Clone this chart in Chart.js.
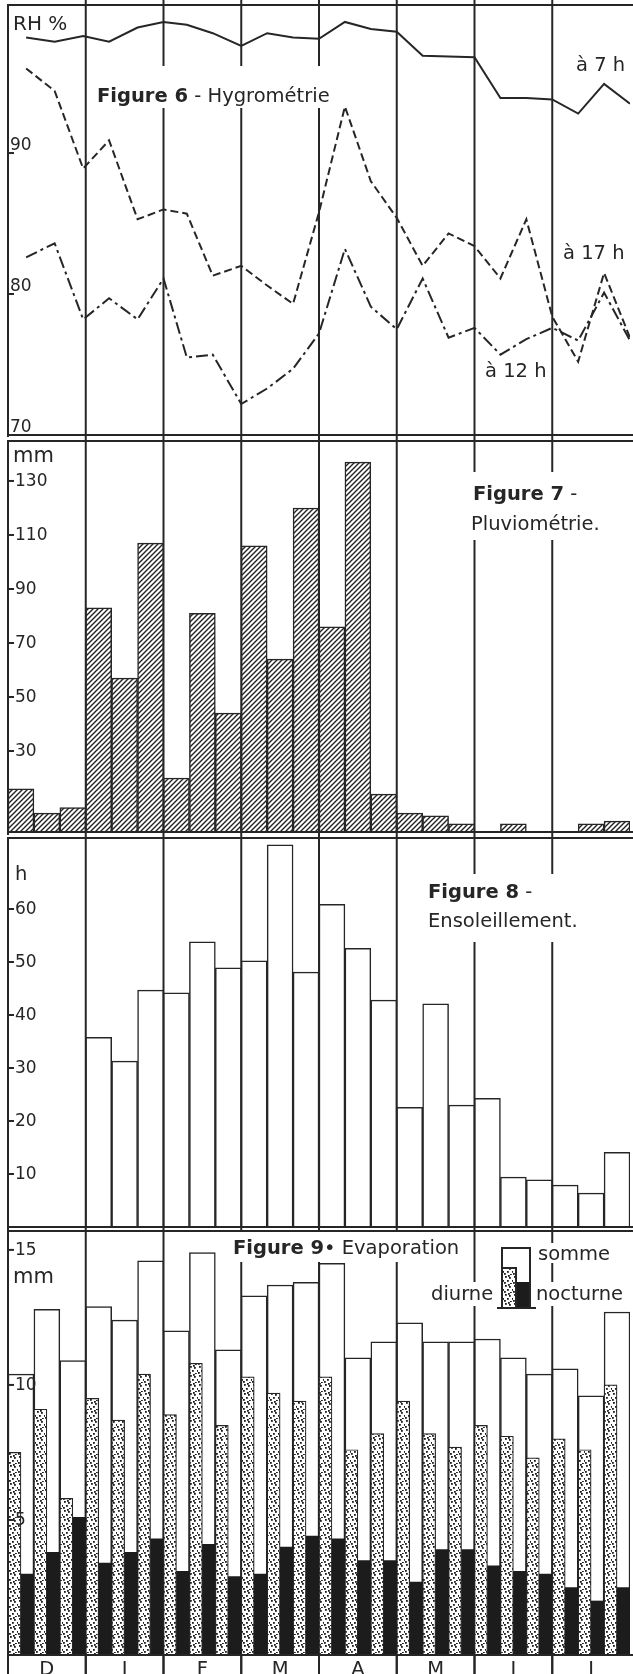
<!DOCTYPE html>
<html>
<head>
<meta charset="utf-8">
<title>Figures 6 - 9</title>
<script src="https://cdn.jsdelivr.net/npm/chart.js@4.4.1/dist/chart.umd.min.js"></script>
<style>
  html, body { margin:0; padding:0; background:#fff; }
  #page { position:relative; width:633px; height:1674px; overflow:hidden; background:#fff; }
  #page canvas { position:absolute; left:0; }
</style>
</head>
<body>
<div id="page">
  <canvas id="fig6" width="633" height="437" style="top:0px"></canvas>
  <canvas id="fig7" width="633" height="398" style="top:437px"></canvas>
  <canvas id="fig8" width="633" height="395" style="top:835px"></canvas>
  <canvas id="fig9" width="633" height="444" style="top:1230px"></canvas>
</div>
<script>
const qs = (sel)=> document.querySelector(sel);
const INK  = '#262626';
const FONT = '"DejaVu Sans", sans-serif';

// ---------- data ----------
const months  = ['D','J','F','M','A','M','J','J'];
const decades = ['D1','D2','D3','J1','J2','J3','F1','F2','F3','M1','M2','M3',
                 'A1','A2','A3','Ma1','Ma2','Ma3','Jn1','Jn2','Jn3','Jl1','Jl2','Jl3'];

// fig 6 - hygrometry (RH %), x = position in decades from 1st December
const rhX  = [0.7,1.8,2.9,3.9,5,6,6.9,7.9,9,10,11,12,13,14,15,16,17,18,19,20,21,22,23,24];
const rh7  = [98.2,97.9,98.3,97.9,98.9,99.3,99.1,98.5,97.6,98.5,98.2,98.1,
              99.3,98.8,98.6,96.9,96.85,96.8,93.9,93.9,93.8,92.8,94.9,93.5];
const rh17 = [96.0,94.4,88.9,90.9,85.3,86.0,85.7,81.3,82.0,80.6,79.3,85.8,
              93.3,88.0,85.4,82.0,84.3,83.4,81.1,85.3,78.4,75.2,81.5,76.9];
const rh12 = [82.6,83.6,78.2,79.7,78.2,81.1,75.5,75.7,72.2,73.3,74.7,77.2,
              83.2,79.1,77.5,81.1,76.9,77.6,75.7,76.8,77.6,76.7,80.1,76.7];
const rhTicks = [90, 80, 70];

// fig 7 - rainfall per decade (mm)
const rain = [16,7,9, 83,57,107, 20,81,44, 106,64,120, 76,137,14, 7,6,3, 0,3,0, 0,3,4];
const rainTicks = [30, 50, 70, 90, 110, 130];

// fig 8 - sunshine per decade (h)
const sun = [0,0,0, 35.8,31.3,44.7, 44.2,53.8,48.9, 50.2,72.1,48.1,
             60.9,52.6,42.8, 22.6,42.1,23.0, 24.3,9.4,8.9, 7.9,6.4,14.1];
const sunTicks = [10, 20, 30, 40, 50, 60];

// fig 9 - evaporation per decade (mm)
const evapSum   = [10.4,12.8,10.9, 12.9,12.4,14.6, 12.0,14.9,11.3, 13.3,13.7,13.8,
                   14.5,11.0,11.6, 12.3,11.6,11.6, 11.7,11.0,10.4, 10.6,9.6,12.7];
const evapDay   = [7.5,9.1,5.8, 9.5,8.7,10.4, 8.9,10.8,8.5, 10.3,9.7,9.4,
                   10.3,7.6,8.2, 9.4,8.2,7.7, 8.5,8.1,7.3, 8.0,7.6,10.0];
const evapNight = [3.0,3.8,5.1, 3.4,3.8,4.3, 3.1,4.1,2.9, 3.0,4.0,4.4,
                   4.3,3.5,3.5, 2.7,3.9,3.9, 3.3,3.1,3.0, 2.5,2.0,2.5];
const evapTicks = [5, 10, 15];

// ---------- fills ----------
function hatch() {
  const c = document.createElement('canvas'); c.width = 5; c.height = 5;
  const g = c.getContext('2d');
  g.fillStyle = '#fff'; g.fillRect(0, 0, 5, 5);
  g.strokeStyle = '#222'; g.lineWidth = 1.4;
  g.beginPath();
  g.moveTo(-1, 6); g.lineTo(6, -1);
  g.moveTo(-1, 1); g.lineTo(1, -1);
  g.moveTo(4, 6); g.lineTo(6, 4);
  g.stroke();
  return g.createPattern(c, 'repeat');
}
function stipple() {
  const c = document.createElement('canvas'); c.width = 9; c.height = 9;
  const g = c.getContext('2d');
  g.fillStyle = '#fff'; g.fillRect(0, 0, 9, 9);
  g.fillStyle = '#1c1c1c';
  [[1,1],[5,2],[8,5],[3,5],[6,8],[0,7],[4,0]].forEach(d => g.fillRect(d[0], d[1], 1.8, 1.8));
  return g.createPattern(c, 'repeat');
}

// ---------- decoration plugin ----------
function monthEdges(chart) {
  const x = chart.scales.x;
  if (x.type === 'linear') return months.map((m, k) => x.getPixelForValue(3 * k)).concat(x.getPixelForValue(24));
  const half = (x.getPixelForValue(1) - x.getPixelForValue(0)) / 2;
  return months.map((m, k) => x.getPixelForValue(3 * k) - half).concat(x.getPixelForValue(23) + half);
}

// parts: [text, bold, size]
function richText(ctx, x, y, parts) {
  parts.forEach(p => {
    ctx.font = (p[1] ? 'bold ' : '') + (p[2] || 19.5) + 'px ' + FONT;
    ctx.fillText(p[0], x, y);
    x += ctx.measureText(p[0]).width;
  });
}

const deco = {
  id: 'deco',
  beforeDatasetsDraw(chart, args, o) {
    const ctx = chart.ctx;
    ctx.save();
    ctx.strokeStyle = INK; ctx.lineWidth = 2;
    monthEdges(chart).slice(1, 8).forEach(x => {
      ctx.beginPath(); ctx.moveTo(x, 0); ctx.lineTo(x, chart.height); ctx.stroke();
    });
    ctx.fillStyle = '#fff';
    (o.boxes || []).forEach(b => ctx.fillRect(b[0], b[1] - o.top, b[2], b[3]));
    ctx.restore();
  },
  afterDatasetsDraw(chart, args, o) {
    const ctx = chart.ctx, a = chart.chartArea, y = chart.scales.y;
    ctx.save();
    ctx.fillStyle = INK; ctx.strokeStyle = INK; ctx.lineWidth = 2;
    ctx.font = '17px ' + FONT;
    o.ticks.forEach(v => {
      const py = Math.min(y.getPixelForValue(v), a.bottom);
      ctx.beginPath(); ctx.moveTo(a.left, py); ctx.lineTo(a.left + 6, py); ctx.stroke();
      if (o.above) { ctx.textBaseline = 'alphabetic'; ctx.fillText(String(v), a.left + 2, py - 3); }
      else { ctx.textBaseline = 'middle'; ctx.fillText(String(v), a.left + 7, py + 1); }
    });
    ctx.textBaseline = 'alphabetic';
    (o.texts || []).forEach(t => richText(ctx, t.x, t.y - o.top, t.parts));
    if (o.legend) o.legend(ctx, o.top);
    ctx.restore();
  },
  afterDraw(chart, args, o) {
    const ctx = chart.ctx, a = chart.chartArea;
    ctx.save();
    ctx.strokeStyle = INK; ctx.lineWidth = 2;
    ctx.beginPath();
    ctx.moveTo(a.left, a.top - 1); ctx.lineTo(a.left, chart.height);
    ctx.moveTo(a.left, a.top); ctx.lineTo(chart.width, a.top);
    ctx.moveTo(a.left, a.bottom); ctx.lineTo(chart.width, a.bottom);
    ctx.stroke();
    if (o.monthRow) {
      const e = monthEdges(chart);
      ctx.fillStyle = INK; ctx.font = '19.5px ' + FONT;
      ctx.textAlign = 'center'; ctx.textBaseline = 'top';
      months.forEach((m, k) => {
        ctx.beginPath(); ctx.moveTo(e[k], a.bottom); ctx.lineTo(e[k], chart.height); ctx.stroke();
        ctx.fillText(m, (e[k] + e[k + 1]) / 2, a.bottom + 5);
      });
    }
    ctx.restore();
  }
};

function opts(pad, ymin, ymax, xScale, d) {
  return {
    responsive: false, animation: false, events: [],
    layout: { padding: pad },
    plugins: { legend: { display: false }, tooltip: { enabled: false }, deco: d },
    scales: { x: xScale, y: { display: false, min: ymin, max: ymax } }
  };
}
const catX = { type: 'category', display: false, grid: { display: false } };
const barStyle = { barPercentage: 1, categoryPercentage: 1, borderColor: INK, borderSkipped: 'start' };

// ---------- figure 6 ----------
const pts = (ys) => rhX.map((x, i) => ({ x, y: ys[i] }));
new Chart(qs('#fig6'), {
  type: 'line',
  data: { datasets: [
    { label: 'à 7 h',  data: pts(rh7),  borderColor: INK, borderWidth: 2, pointRadius: 0 },
    { label: 'à 17 h', data: pts(rh17), borderColor: INK, borderWidth: 2, pointRadius: 0, borderDash: [8, 4] },
    { label: 'à 12 h', data: pts(rh12), borderColor: INK, borderWidth: 2, pointRadius: 0, borderDash: [12, 4, 3, 4] }
  ]},
  plugins: [deco],
  options: opts({ top: 5, bottom: 2, left: 8, right: 3 }, 70, 100.5,
    { type: 'linear', display: false, min: 0, max: 24 },
    { top: 0, above: true, ticks: rhTicks,
      boxes: [[93, 66, 240, 42]],
      texts: [
        { x: 13, y: 30, parts: [['RH %', false, 20]] },
        { x: 97, y: 102, parts: [['Figure 6', true], [' - Hygrométrie', false]] },
        { x: 576, y: 71, parts: [['à 7 h', false]] },
        { x: 563, y: 259, parts: [['à 17 h', false]] },
        { x: 485, y: 377, parts: [['à 12 h', false]] }
      ] })
});

// ---------- figure 7 ----------
new Chart(qs('#fig7'), {
  type: 'bar',
  data: { labels: decades, datasets: [
    Object.assign({ label: 'Pluviométrie', data: rain, backgroundColor: hatch(), borderWidth: 1.5 }, barStyle)
  ]},
  plugins: [deco],
  options: opts({ top: 4, bottom: 3, left: 8, right: 3 }, 0, 144.8, catX,
    { top: 437, ticks: rainTicks,
      boxes: [[467, 472, 142, 68]],
      texts: [
        { x: 13, y: 462, parts: [['mm', false, 21]] },
        { x: 473, y: 500, parts: [['Figure 7', true], [' -', false]] },
        { x: 471, y: 530, parts: [['Pluviométrie.', false]] }
      ] })
});

// ---------- figure 8 ----------
new Chart(qs('#fig8'), {
  type: 'bar',
  data: { labels: decades, datasets: [
    Object.assign({ label: 'Ensoleillement', data: sun, backgroundColor: '#fff', borderWidth: 1.5 }, barStyle)
  ]},
  plugins: [deco],
  options: opts({ top: 3, bottom: 3, left: 8, right: 3 }, 0, 73.4, catX,
    { top: 835, ticks: sunTicks,
      boxes: [[424, 874, 166, 68]],
      texts: [
        { x: 15, y: 880, parts: [['h', false]] },
        { x: 428, y: 898, parts: [['Figure 8', true], [' -', false]] },
        { x: 428, y: 927, parts: [['Ensoleillement.', false]] }
      ] })
});

// ---------- figure 9 ----------
const dots = stipple();
function evapLegend(ctx, top) {
  const y0 = 1248 - top;
  ctx.fillStyle = '#fff'; ctx.fillRect(502, y0, 28, 60);
  ctx.fillStyle = dots;   ctx.fillRect(503, 1268 - top, 13, 40);
  ctx.fillStyle = '#1c1c1c'; ctx.fillRect(516, 1282 - top, 14, 26);
  ctx.strokeStyle = INK; ctx.lineWidth = 2;
  ctx.beginPath();
  ctx.moveTo(502, 1308 - top); ctx.lineTo(502, y0); ctx.lineTo(530, y0); ctx.lineTo(530, 1308 - top);
  ctx.moveTo(503, 1268 - top); ctx.lineTo(516, 1268 - top); ctx.lineTo(516, 1308 - top);
  ctx.moveTo(497, 1308 - top); ctx.lineTo(536, 1308 - top);
  ctx.stroke();
}
new Chart(qs('#fig9'), {
  type: 'bar',
  data: { labels: decades, datasets: [
    Object.assign({ label: 'diurne', data: evapDay, backgroundColor: dots, borderWidth: 1.2, order: 1 }, barStyle),
    Object.assign({ label: 'nocturne', data: evapNight, backgroundColor: '#1c1c1c', borderWidth: 0, order: 1 }, barStyle),
    Object.assign({ label: 'somme', data: evapSum, backgroundColor: '#fff', borderWidth: 1.5, grouped: false, order: 2 }, barStyle)
  ]},
  plugins: [deco],
  options: opts({ top: 1, bottom: 19, left: 8, right: 3 }, 0, 15.7, catX,
    { top: 1230, ticks: evapTicks, monthRow: true,
      boxes: [[228, 1232, 236, 30], [533, 1243, 80, 20], [427, 1282, 72, 24], [532, 1282, 98, 24]],
      texts: [
        { x: 13, y: 1283, parts: [['mm', false, 21]] },
        { x: 233, y: 1254, parts: [['Figure 9', true], ['• Evaporation', false]] },
        { x: 538, y: 1260, parts: [['somme', false]] },
        { x: 431, y: 1300, parts: [['diurne', false]] },
        { x: 536, y: 1300, parts: [['nocturne', false]] }
      ],
      legend: evapLegend })
});
</script>
</body>
</html>
